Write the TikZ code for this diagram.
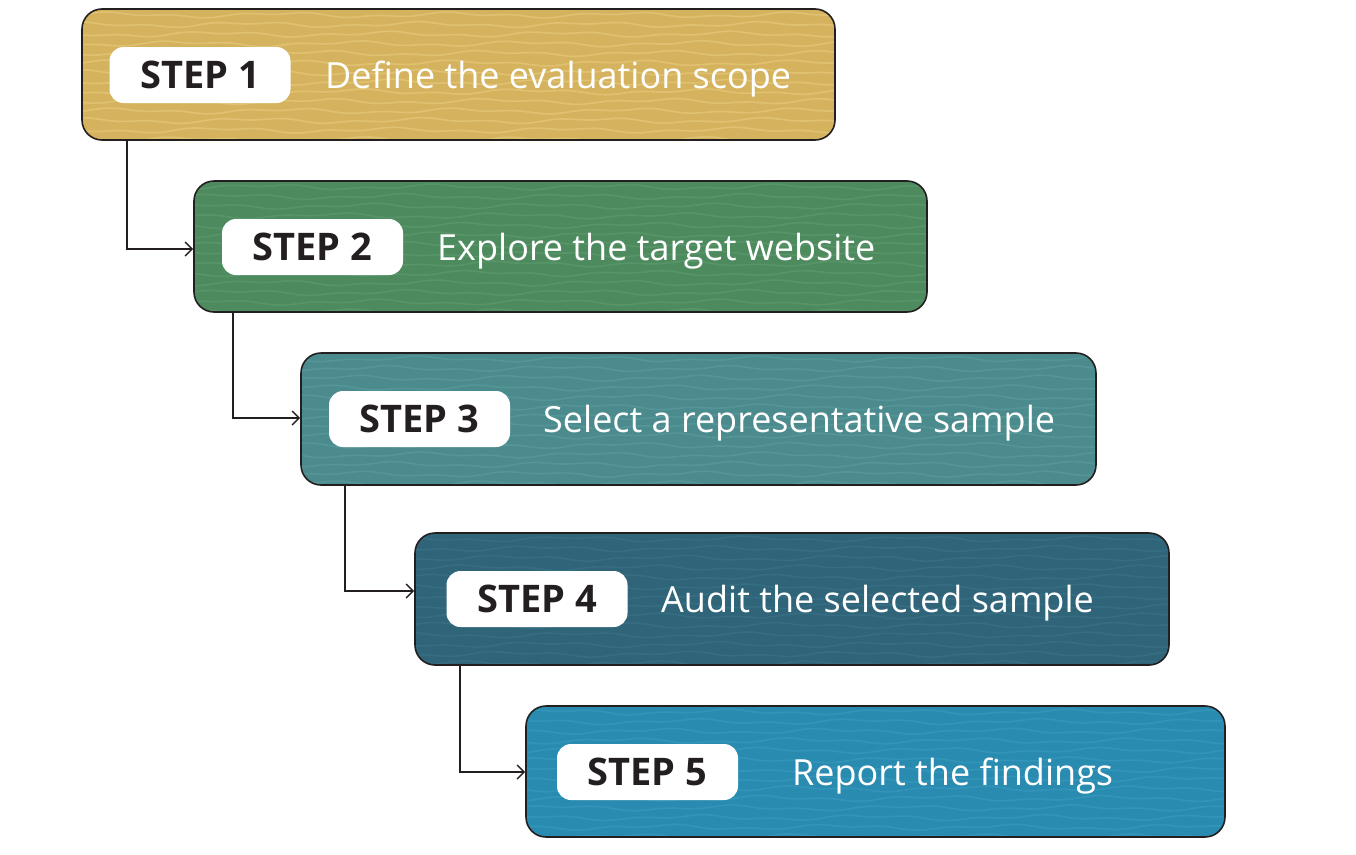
\documentclass[tikz,border=0pt]{standalone}
\usepackage{fontspec}
\setmainfont{Open Sans}
\usetikzlibrary{arrows.meta}
\definecolor{c1}{HTML}{D5B35E}\definecolor{l1}{HTML}{E6CB7E}
\definecolor{c2}{HTML}{4D8B5F}\definecolor{l2}{HTML}{5E9D70}
\definecolor{c3}{HTML}{4C8B8D}\definecolor{l3}{HTML}{5D9C9E}
\definecolor{c4}{HTML}{2F6479}\definecolor{l4}{HTML}{3C7388}
\definecolor{c5}{HTML}{2A8BB0}\definecolor{l5}{HTML}{3A9BC0}
\definecolor{ink}{HTML}{231F20}
\tikzset{
  stepbox/.style={draw=ink, line width=1.6pt, rounded corners=20pt, inner sep=0pt},
  pill/.style={fill=white, rounded corners=14pt, minimum width=181pt, minimum height=56pt, inner sep=0pt,
    font=\fontsize{38}{38}\selectfont\bfseries, text=ink},
  desc/.style={anchor=base west, text=white, font=\fontsize{36}{36}\selectfont, inner sep=0pt},
  conn/.style={draw=ink, line width=1.4pt, -{Straight Barb[length=7pt,width=14pt,line width=1.4pt]}},
  wave/.style={line width=1.6pt, opacity=0.6}
}
\newcommand{\mybox}[8]{% name, x1, y1, x2, y2, fill, line col, seed
  \begin{scope}
    \clip[rounded corners=20pt] (#2,#3) rectangle (#4,#5);
    \fill[#6] (#2,#3) rectangle (#4,#5);
    \foreach \k in {0,...,13}{
      \pgfmathsetmacro{\yy}{#3+6+\k*9.6}
      \pgfmathsetmacro{\ph}{#8*37+\k*71}
      \draw[wave,#7] plot[domain=#2:#4, samples=70, smooth] (\x,{\yy+1.8*sin(\x*2.1+\ph)+1.2*sin(\x*5.3+2*\ph)});
    }
  \end{scope}
  \node[stepbox, minimum width={#4-#2}, minimum height={#5-#3}] (#1) at ({(#2+#4)/2},{(#3+#5)/2}) {};
}
\begin{document}
\begin{tikzpicture}[x=1pt,y=-1pt]
\useasboundingbox (0,0) rectangle (1356,854);
\mybox{b1}{82}{9}{835}{140}{c1}{l1}{1}
\mybox{b2}{194}{181}{927}{312}{c2}{l2}{2}
\mybox{b3}{301}{353}{1096}{485}{c3}{l3}{3}
\mybox{b4}{415}{533}{1169}{665}{c4}{l4}{4}
\mybox{b5}{526}{706}{1225}{837}{c5}{l5}{5}
\node[pill] (p1) at (200,75) {STEP 1};
\node[pill] (p2) at (312.5,247) {STEP 2};
\node[pill] (p3) at (419.5,419) {STEP 3};
\node[pill] (p4) at (537,599) {STEP 4};
\node[pill] (p5) at (647.5,772) {STEP 5};
\node[desc] (t1) at (325,88) {Define the evaluation scope};
\node[desc] (t2) at (437,260) {Explore the target website};
\node[desc] (t3) at (543,432) {Select a representative sample};
\node[desc] (t4) at (661,612) {Audit the selected sample};
\node[desc] (t5) at (792,785) {Report the findings};
\coordinate (k1) at (127,249);
\coordinate (k2) at (233,418);
\coordinate (k3) at (345,591);
\coordinate (k4) at (460,772);
\draw[conn] (b1.south -| k1) |- (b2.west |- k1);
\draw[conn] (b2.south -| k2) |- (b3.west |- k2);
\draw[conn] (b3.south -| k3) |- (b4.west |- k3);
\draw[conn] (b4.south -| k4) |- (b5.west |- k4);
\end{tikzpicture}
\end{document}
